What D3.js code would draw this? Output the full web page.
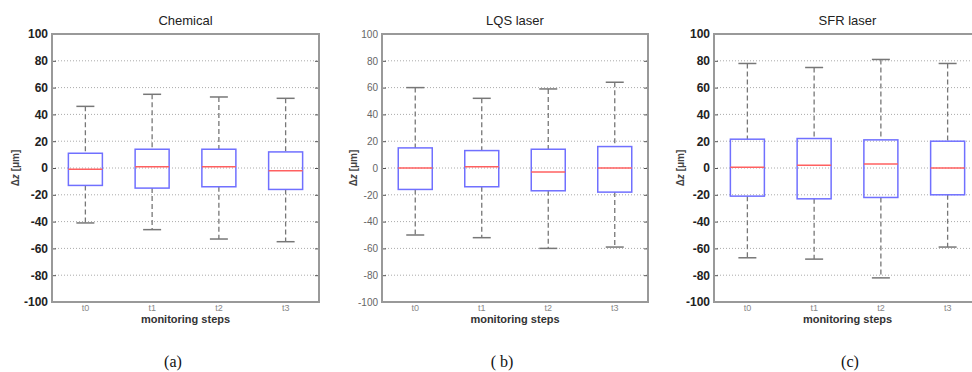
<!DOCTYPE html>
<html>
<head>
<meta charset="utf-8">
<script src="https://cdn.jsdelivr.net/npm/d3@7"></script>
<style>
  body { margin: 0; background: #fff; }
  svg { display: block; }
</style>
</head>
<body>
<svg id="chart" width="972" height="372"></svg>
<script>
const steps = ["t0", "t1", "t2", "t3"];
const yTicks = [-100, -80, -60, -40, -20, 0, 20, 40, 60, 80, 100];

// [lower whisker, q1, median, q3, upper whisker] for each step
const chemicalStats = [[-41, -13, -1, 11, 46], [-46, -15, 1, 14, 55], [-53, -14, 1, 14, 53], [-55, -16, -2, 12, 52]];
const lqsStats = [[-50, -16, 0, 15, 60], [-52, -14, 1, 13, 52], [-60, -17, -3, 14, 59], [-59, -18, 0, 16, 64]];
const sfrStats = [[-67, -21, 0.5, 21.5, 78], [-68, -23, 2, 22, 75], [-82, -22, 3, 21, 81], [-59, -20, 0, 20, 78]];

const titles = ["Chemical", "LQS laser", "SFR laser"];
const captions = ["(a)", "( b)", "(c)"];

const panels = [
  { stats: chemicalStats, left: 52, right: 319, ylab: 15, tickFont: "bold 12px Arial, 'Liberation Sans', sans-serif", tickColor: "#222" },
  { stats: lqsStats, left: 382, right: 648, ylab: 353, tickFont: "10px Arial, 'Liberation Sans', sans-serif", tickColor: "#666" },
  { stats: sfrStats, left: 714, right: 981, ylab: 680, tickFont: "bold 12px Arial, 'Liberation Sans', sans-serif", tickColor: "#222" }
];

const plotTop = 34, plotBottom = 302;
const svg = d3.select("#chart");

panels.forEach((p, i) => {
  const g = svg.append("g");

  const x = d3.scaleBand().domain(steps).range([p.left, p.right]);
  const y = d3.scaleLinear().domain([-100, 100]).range([plotBottom, plotTop]);
  const boxW = 34;
  const cx = d => x(d) + x.bandwidth() / 2;

  // dotted grid
  g.selectAll(".grid")
    .data(yTicks.filter(t => t > -100 && t < 100))
    .enter().append("line")
    .attr("x1", p.left).attr("x2", p.right)
    .attr("y1", d => y(d)).attr("y2", d => y(d))
    .attr("stroke", "#aaa")
    .attr("stroke-width", 1)
    .attr("stroke-dasharray", "1,2");

  // y axis
  const yAxisG = g.append("g")
    .attr("transform", "translate(" + p.left + ",0)")
    .call(d3.axisLeft(y).tickValues(yTicks).tickSize(-4).tickPadding(4).tickFormat(d => String(d)));
  yAxisG.select(".domain").remove();
  yAxisG.selectAll("line").attr("stroke", "#555");
  yAxisG.selectAll("text")
    .style("font", p.tickFont)
    .attr("fill", p.tickColor);

  // right side ticks
  const yAxisR = g.append("g")
    .attr("transform", "translate(" + p.right + ",0)")
    .call(d3.axisRight(y).tickValues(yTicks).tickSize(-4).tickFormat(""));
  yAxisR.select(".domain").remove();
  yAxisR.selectAll("line").attr("stroke", "#555");

  // x axis
  const xAxisG = g.append("g")
    .attr("transform", "translate(0," + plotBottom + ")")
    .call(d3.axisBottom(x).tickSize(0).tickPadding(3));
  xAxisG.select(".domain").remove();
  xAxisG.selectAll("text")
    .style("font", "9px Arial, 'Liberation Sans', sans-serif")
    .attr("fill", "#888");

  // frame
  g.append("rect")
    .attr("x", p.left).attr("y", plotTop)
    .attr("width", p.right - p.left).attr("height", plotBottom - plotTop)
    .attr("fill", "none")
    .attr("stroke", "#999")
    .attr("stroke-width", 2);

  const boxes = g.selectAll(".box")
    .data(steps.map((s, k) => ({ step: s, v: p.stats[k] })))
    .enter().append("g");

  // whiskers
  boxes.append("line")
    .attr("x1", d => cx(d.step)).attr("x2", d => cx(d.step))
    .attr("y1", d => y(d.v[4])).attr("y2", d => y(d.v[3]))
    .attr("stroke", "#777").attr("stroke-width", 1.3).attr("stroke-dasharray", "5,3");
  boxes.append("line")
    .attr("x1", d => cx(d.step)).attr("x2", d => cx(d.step))
    .attr("y1", d => y(d.v[1])).attr("y2", d => y(d.v[0]))
    .attr("stroke", "#777").attr("stroke-width", 1.3).attr("stroke-dasharray", "5,3");

  // caps
  [0, 4].forEach(k => {
    boxes.append("line")
      .attr("x1", d => cx(d.step) - 9).attr("x2", d => cx(d.step) + 9)
      .attr("y1", d => y(d.v[k])).attr("y2", d => y(d.v[k]))
      .attr("stroke", "#777").attr("stroke-width", 1.5);
  });

  // box
  boxes.append("rect")
    .attr("x", d => cx(d.step) - boxW / 2)
    .attr("y", d => y(d.v[3]))
    .attr("width", boxW)
    .attr("height", d => y(d.v[1]) - y(d.v[3]))
    .attr("fill", "none")
    .attr("stroke", "#7070ff")
    .attr("stroke-width", 1.5);

  // median
  boxes.append("line")
    .attr("x1", d => cx(d.step) - boxW / 2).attr("x2", d => cx(d.step) + boxW / 2)
    .attr("y1", d => y(d.v[2])).attr("y2", d => y(d.v[2]))
    .attr("stroke", "#ff6060").attr("stroke-width", 1.5);

  const plotMid = p.left + 2 * x.bandwidth();

  // title
  g.append("text")
    .attr("x", plotMid).attr("y", 25)
    .attr("text-anchor", "middle")
    .style("font", "13px Arial, 'Liberation Sans', sans-serif")
    .attr("fill", "#222")
    .text(titles[i]);

  // x label
  g.append("text")
    .attr("x", plotMid).attr("y", 323)
    .attr("text-anchor", "middle")
    .style("font", "bold 11px Arial, 'Liberation Sans', sans-serif")
    .attr("fill", "#333")
    .text("monitoring steps");

  // y label
  const yl = g.append("text")
    .attr("transform", "translate(" + (p.ylab + 4) + "," + y(0) + ") rotate(-90)")
    .attr("text-anchor", "middle")
    .style("font", "bold 10px Arial, 'Liberation Sans', sans-serif")
    .attr("fill", "#444");
  yl.append("tspan").text("Δ");
  yl.append("tspan").style("font-style", "italic").text("z");
  yl.append("tspan").text(" [μm]");

  // caption
  g.append("text")
    .attr("x", [173, 502, 850][i]).attr("y", 367)
    .attr("text-anchor", "middle")
    .style("font", "16px 'Liberation Serif', 'Times New Roman', serif")
    .attr("fill", "#111")
    .text(captions[i]);
});
</script>
</body>
</html>
